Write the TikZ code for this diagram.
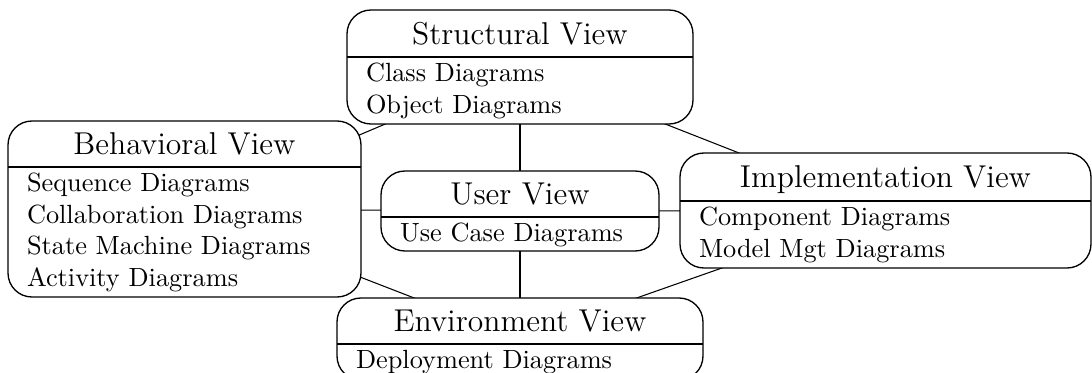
\documentclass[tikz,border=0pt]{standalone}
\usetikzlibrary{fit,backgrounds}
\begin{document}
\begin{tikzpicture}[x=0.38pt,y=-0.38pt,
  viewbox/.style={draw, line width=0.5pt, rounded corners=9.1pt, fill=white, inner sep=0pt},
  divider/.style={line width=0.5pt},
  ttl/.style={font=\large, anchor=base, inner sep=0pt},
  itm/.style={anchor=base west, inner sep=0pt},
  link/.style={line width=0.4pt}]
\useasboundingbox (0,0) rectangle (1092,373);
\clip (0,0) rectangle (1092,373);
% Structural View
\node[viewbox, fit={(347,10) (693,124)}] (s) {};
\draw[divider] (347,57) -- (693,57);
\node[ttl] (st) at (520,44.5) {Structural View};
\node[itm] (s1) at (365.5,82) {Class Diagrams};
\node[itm] (s2) at (365.5,113.5) {Object Diagrams};
% Behavioral View
\node[viewbox, fit={(8,121) (361,297)}] (b) {};
\draw[divider] (8,167) -- (361,167);
\node[ttl] (bt) at (184.5,154.7) {Behavioral View};
\node[itm] (b1) at (26.5,192) {Sequence Diagrams};
\node[itm] (b2) at (26.5,223.5) {Collaboration Diagrams};
\node[itm] (b3) at (26.5,255) {State Machine Diagrams};
\node[itm] (b4) at (26.5,286.5) {Activity Diagrams};
% User View
\node[viewbox, fit={(381,171) (659,251)}] (u) {};
\draw[divider] (381,217) -- (659,217);
\node[ttl] (ut) at (520,204.7) {User View};
\node[itm] (u1) at (399.5,242) {Use Case Diagrams};
% Implementation View
\node[viewbox, fit={(680,153) (1091,268)}] (i) {};
\draw[divider] (680,201) -- (1091,201);
\node[ttl] (it) at (885.5,187.7) {Implementation View};
\node[itm] (i1) at (698.5,226) {Component Diagrams};
\node[itm] (i2) at (698.5,257.5) {Model Mgt Diagrams};
% Environment View
\node[viewbox, fit={(337,298) (703,380)}] (e) {};
\draw[divider] (337,344) -- (703,344);
\node[ttl] (et) at (520,331.7) {Environment View};
\node[itm] (e1) at (355.5,369) {Deployment Diagrams};
% connectors
\begin{scope}[on background layer]
\draw[link] (s.center) -- (u.center);
\draw[link] (s.center) -- (b.center);
\draw[link] (s.center) -- (i.center);
\draw[link] (b.center) -- (u.center);
\draw[link] (u.center) -- (i.center);
\draw[link] (b.center) -- (e.center);
\draw[link] (u.center) -- (e.center);
\draw[link] (i.center) -- (e.center);
\end{scope}
\end{tikzpicture}
\end{document}
